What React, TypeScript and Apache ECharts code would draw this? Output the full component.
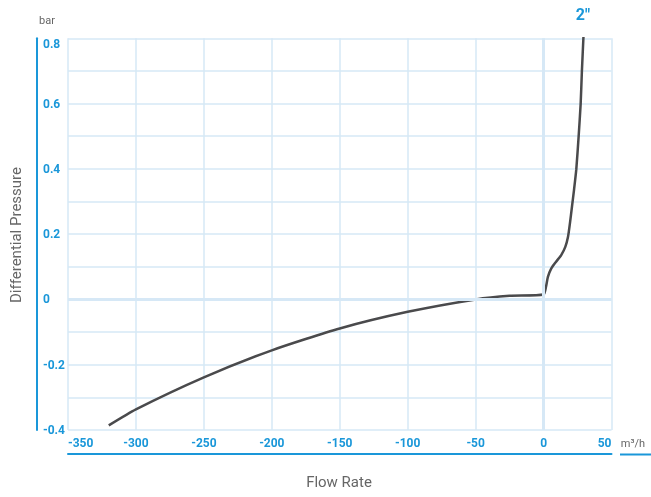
import React, { useEffect, useRef } from "react";
import * as echarts from "echarts";

const flowRate: number[] = [-320, -300, -250, -200, -150, -100, -50, -25, 0, 1.8, 3.2, 5.7, 9.1, 13.0, 16.0, 18.0, 19.4, 20.9, 22.4, 24.1, 25.8, 27.3, 28.2, 29.4];
const diffPressure: number[] = [-0.386, -0.337, -0.239, -0.156, -0.089, -0.038, 0.0, 0.011, 0.015, 0.039, 0.069, 0.095, 0.115, 0.136, 0.161, 0.192, 0.233, 0.284, 0.335, 0.399, 0.499, 0.599, 0.698, 0.808];
const seriesName = '2"';
const xTitle = "Flow Rate";
const yTitle = "Differential Pressure";
const xUnit = "m³/h";
const yUnit = "bar";

const BLUE = "#1a97d9";
const GRID = "#d6e8f6";
const GREY = "#666666";
const FONT = "Roboto, sans-serif";

export default function App() {
  const ref = useRef<HTMLDivElement>(null);
  useEffect(() => {
    if (!ref.current) return;
    const chart = echarts.init(ref.current, undefined, { renderer: "svg" });
    const data = flowRate.map((x, i) => [x, diffPressure[i]]);
    chart.setOption({
      animation: false,
      textStyle: { fontFamily: FONT },
      grid: { left: 68, right: 39.5, top: 38.3, bottom: 67 },
      xAxis: {
        type: "value",
        min: -350,
        max: 50,
        interval: 50,
        offset: 24,
        axisLine: { show: true, onZero: false, lineStyle: { color: BLUE, width: 2 } },
        axisTick: { show: false },
        axisLabel: {
          inside: true,
          margin: 5,
          color: BLUE,
          fontWeight: "bold",
          fontSize: 12,
          fontFamily: FONT,
          alignMinLabel: "left",
          alignMaxLabel: "right",
        },
        splitLine: { show: true, lineStyle: { color: GRID, width: 1.5 } },
      },
      yAxis: {
        type: "value",
        min: -0.4,
        max: 0.8,
        interval: 0.2,
        offset: 31,
        axisLine: { show: true, onZero: false, lineStyle: { color: BLUE, width: 2 } },
        axisTick: { show: false },
        axisLabel: {
          inside: true,
          margin: 6,
          color: BLUE,
          fontWeight: "bold",
          fontSize: 12,
          fontFamily: FONT,
          verticalAlignMaxLabel: "top",
        },
        splitLine: { show: true, lineStyle: { color: GRID, width: 1.5 } },
        minorTick: { show: false, splitNumber: 2 },
        minorSplitLine: { show: true, lineStyle: { color: GRID, width: 1.5 } },
      },
      graphic: [
        { type: "text", x: 47, y: 20, style: { text: yUnit, fontSize: 11, fill: GREY, fontFamily: FONT, align: "center", verticalAlign: "middle" } },
        { type: "text", x: 583, y: 14, style: { text: seriesName, fontSize: 16, fontWeight: "bold", fill: BLUE, fontFamily: FONT, align: "center", verticalAlign: "middle" } },
        { type: "text", x: 633, y: 443, style: { text: xUnit, fontSize: 11, fill: GREY, fontFamily: FONT, align: "center", verticalAlign: "middle" } },
        { type: "line", shape: { x1: 620, y1: 454.5, x2: 651, y2: 454.5 }, style: { stroke: BLUE, lineWidth: 2 } },
        { type: "text", x: 16, y: 235, rotation: Math.PI / 2, style: { text: yTitle, fontSize: 15, fill: GREY, fontFamily: FONT, align: "center", verticalAlign: "middle" } },
        { type: "text", x: 339, y: 482, style: { text: xTitle, fontSize: 15, fill: GREY, fontFamily: FONT, align: "center", verticalAlign: "middle" } },
      ],
      series: [
        {
          type: "line",
          name: "zero",
          data: [],
          z: 1,
          silent: true,
          markLine: {
            silent: true,
            symbol: "none",
            label: { show: false },
            lineStyle: { color: GRID, width: 3, type: "solid" },
            data: [{ xAxis: 0 }, { yAxis: 0 }],
          },
        },
        {
          type: "line",
          name: seriesName,
          data,
          z: 3,
          smooth: 0.2,
          showSymbol: false,
          symbol: "none",
          lineStyle: { color: "#4a4a4c", width: 2.5 },
        },
      ],
    });
    return () => chart.dispose();
  }, []);
  return <div ref={ref} style={{ position: "fixed", left: 0, top: 0, width: 651, height: 497 }} />;
}
